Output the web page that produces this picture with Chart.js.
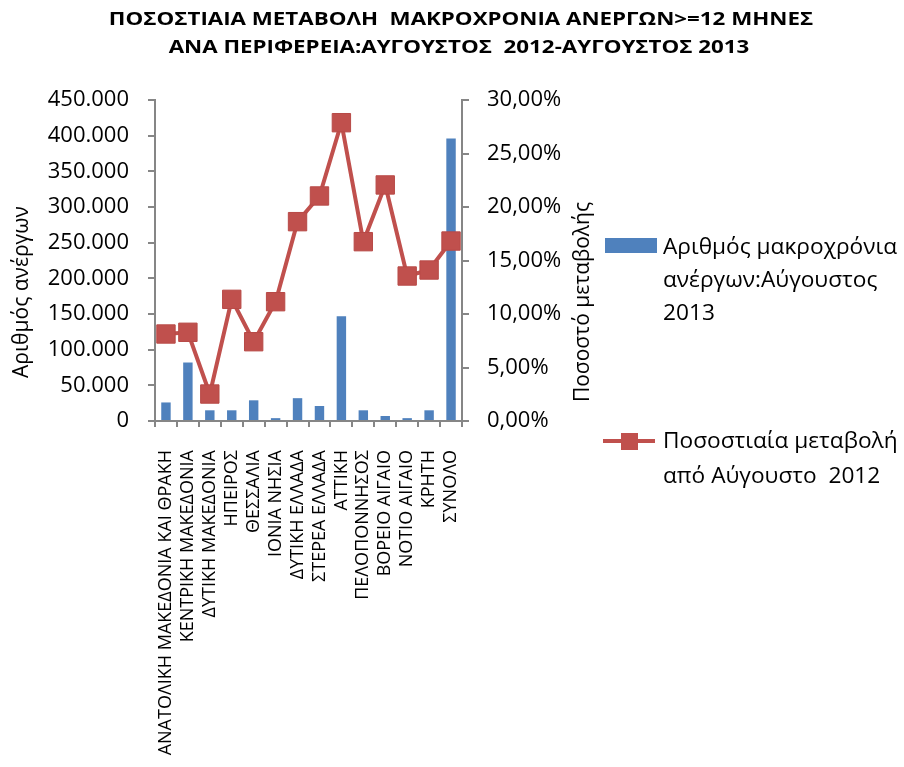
<!DOCTYPE html>
<html>
<head>
<meta charset="utf-8">
<script src="https://cdn.jsdelivr.net/npm/chart.js@4"></script>
<style>
  body { margin: 0; background: #fff; }
  #wrap { width: 904px; height: 767px; }
</style>
</head>
<body>
<div id="wrap"><canvas id="chart" width="904" height="767"></canvas></div>
<script>
"use strict";

const regions = [
  "ΑΝΑΤΟΛΙΚΗ ΜΑΚΕΔΟΝΙΑ ΚΑΙ ΘΡΑΚΗ",
  "ΚΕΝΤΡΙΚΗ ΜΑΚΕΔΟΝΙΑ",
  "ΔΥΤΙΚΗ ΜΑΚΕΔΟΝΙΑ",
  "ΗΠΕΙΡΟΣ",
  "ΘΕΣΣΑΛΙΑ",
  "ΙΟΝΙΑ ΝΗΣΙΑ",
  "ΔΥΤΙΚΗ ΕΛΛΑΔΑ",
  "ΣΤΕΡΕΑ ΕΛΛΑΔΑ",
  "ΑΤΤΙΚΗ",
  "ΠΕΛΟΠΟΝΝΗΣΟΣ",
  "ΒΟΡΕΙΟ ΑΙΓΑΙΟ",
  "ΝΟΤΙΟ ΑΙΓΑΙΟ",
  "ΚΡΗΤΗ",
  "ΣΥΝΟΛΟ",
];
const unemployed = [26000, 82000, 15000, 15000, 29000, 4000, 32000, 21000, 147000, 15000, 7000, 4000, 15000, 396000];
const changeRate = [0.0813, 0.0829, 0.0252, 0.1137, 0.0741, 0.1115, 0.1863, 0.2103, 0.2788, 0.1676, 0.2206, 0.1355, 0.1411, 0.1682];
const countTicks = { min: 0, max: 450000, step: 50000 };
const rateTicks = { min: 0, max: 0.3, step: 0.05 };

const titleLines = [
  "ΠΟΣΟΣΤΙΑΙΑ ΜΕΤΑΒΟΛΗ  ΜΑΚΡΟΧΡΟΝΙΑ ΑΝΕΡΓΩΝ>=12 ΜΗΝΕΣ",
  "ΑΝΑ ΠΕΡΙΦΕΡΕΙΑ:ΑΥΓΟΥΣΤΟΣ  2012-ΑΥΓΟΥΣΤΟΣ 2013",
];
const barLegend = ["Αριθμός μακροχρόνια", "ανέργων:Αύγουστος", "2013"];
const lineLegend = ["Ποσοστιαία μεταβολή", "από Αύγουστο  2012"];

const BLUE = "#4F81BD";
const RED = "#C0504D";
const AXIS = "#868686";
const FONT = "'Open Sans', sans-serif";

function thousands(value) {
  return String(Math.round(value)).replace(/\B(?=(\d{3})+(?!\d))/g, ".");
}

function percent(value) {
  return (value * 100).toFixed(2).replace(".", ",") + "%";
}

// the original font is wider than Open Sans, so stretch text sideways a bit
function wideText(ctx, text, x, y, stretch, angle = 0) {
  ctx.save();
  ctx.translate(x, y);
  ctx.rotate(angle);
  ctx.scale(stretch, 1);
  ctx.fillText(text, 0, 0);
  ctx.restore();
}

// title, rotated axis titles and the wrapped legend
const decorations = {
  id: "decorations",
  afterDraw(chart) {
    const ctx = chart.ctx;
    ctx.save();
    ctx.fillStyle = "#000";
    ctx.textAlign = "center";
    ctx.textBaseline = "middle";
    ctx.font = `bold 18px ${FONT}`;
    wideText(ctx, titleLines[0], 461, 20, 1.24);
    wideText(ctx, titleLines[1], 459, 48, 1.24);

    ctx.font = `21px ${FONT}`;
    wideText(ctx, "Αριθμός ανέργων", 22, 292, 1.0, -Math.PI / 2);
    wideText(ctx, "Ποσοστό μεταβολής", 583, 302, 1.0, -Math.PI / 2);

    const lx = 605;
    ctx.textAlign = "left";
    ctx.font = `21px ${FONT}`;
    ctx.fillStyle = BLUE;
    ctx.fillRect(lx, 238, 52, 15);
    ctx.fillStyle = "#000";
    barLegend.forEach((text, i) => wideText(ctx, text, lx + 58, 248 + i * 33, 1.08));

    ctx.strokeStyle = RED;
    ctx.lineWidth = 4;
    ctx.beginPath();
    ctx.moveTo(lx - 2, 441);
    ctx.lineTo(lx + 50, 441);
    ctx.stroke();
    ctx.fillStyle = RED;
    ctx.fillRect(lx + 16, 433, 17, 17);
    ctx.fillStyle = "#000";
    lineLegend.forEach((text, i) => wideText(ctx, text, lx + 58, 442 + i * 35, 1.08));
    ctx.restore();
  },
};

new Chart(document.getElementById("chart"), {
  type: "bar",
  data: {
    labels: regions,
    datasets: [
      {
        label: barLegend.join(" "),
        data: unemployed,
        backgroundColor: BLUE,
        yAxisID: "y",
        barPercentage: 0.43,
        categoryPercentage: 1,
        order: 1,
      },
      {
        type: "line",
        label: lineLegend.join(" "),
        data: changeRate,
        borderColor: RED,
        borderWidth: 4,
        backgroundColor: RED,
        pointStyle: "rect",
        pointRadius: 13,
        pointHoverRadius: 13,
        pointBorderWidth: 1,
        pointBorderColor: "#B84A47",
        yAxisID: "y1",
        order: 0,
      },
    ],
  },
  options: {
    responsive: false,
    animation: false,
    layout: { padding: { top: 100, left: 0, right: 0, bottom: 0 } },
    plugins: { legend: { display: false }, title: { display: false }, tooltip: { enabled: false } },
    scales: {
      x: {
        offset: true,
        grid: { drawOnChartArea: false, tickLength: 6, color: AXIS, lineWidth: 2, offset: true },
        border: { color: AXIS, width: 2 },
        ticks: {
          autoSkip: false,
          minRotation: 90,
          maxRotation: 90,
          padding: 23,
          color: "#000",
          font: { family: FONT, size: 18 },
        },
        afterFit: (scale) => { scale.height = 346; },
      },
      y: {
        position: "left",
        min: countTicks.min,
        max: countTicks.max,
        grid: { drawOnChartArea: false, tickLength: 7, color: AXIS, lineWidth: 2 },
        border: { color: AXIS, width: 2 },
        ticks: {
          stepSize: countTicks.step,
          padding: 19,
          color: "#000",
          font: { family: FONT, size: 22 },
          callback: (v) => thousands(v),
        },
        afterFit: (scale) => { scale.width = 155; },
      },
      y1: {
        position: "right",
        min: rateTicks.min,
        max: rateTicks.max,
        grid: { drawOnChartArea: false, tickLength: 7, color: AXIS, lineWidth: 2 },
        border: { color: AXIS, width: 2 },
        ticks: {
          stepSize: rateTicks.step,
          padding: 18,
          color: "#000",
          font: { family: FONT, size: 22 },
          callback: (v) => percent(v),
        },
        afterFit: (scale) => { scale.width = 442; },
      },
    },
  },
  plugins: [decorations],
});
</script>
</body>
</html>
